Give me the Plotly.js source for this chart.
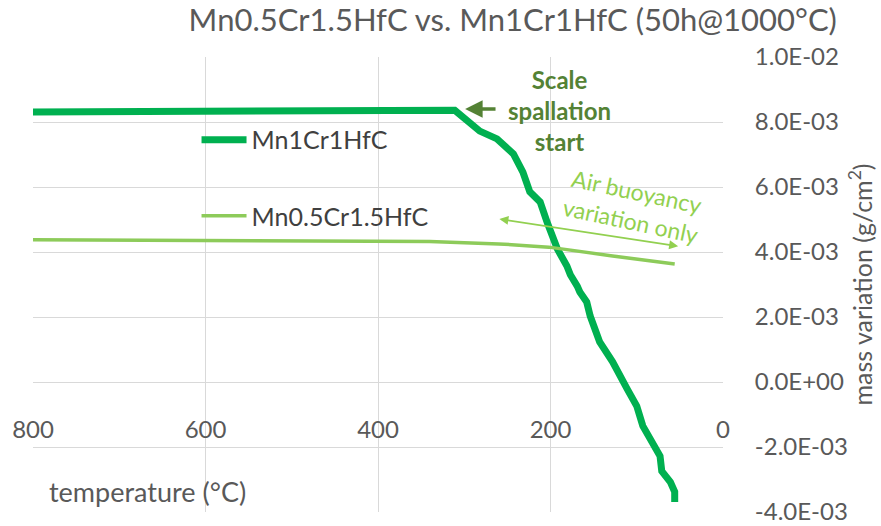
<!DOCTYPE html>
<html>
<head>
<meta charset="utf-8">
<script src="https://cdn.plot.ly/plotly-3.0.1.min.js"></script>
<style>html,body{margin:0;padding:0;background:#fff;}#chart{width:881px;height:526px;}</style>
</head>
<body>
<div id="chart"></div>
<script>
// Mn1Cr1HfC: temperature (°C) and mass variation (g/cm²)
const tempMn1 = [800, 700, 600, 500, 400, 330, 311, 282, 262, 243, 232, 224, 212, 204, 192, 181, 177, 169, 166, 158, 154, 143, 128, 111, 100, 93, 81, 73, 71, 61, 56, 56];
const massMn1 = [8.31e-3, 8.31e-3, 8.32e-3, 8.32e-3, 8.33e-3, 8.35e-3, 8.36e-3, 7.72e-3, 7.48e-3, 7.02e-3, 6.46e-3, 5.85e-3, 5.54e-3, 4.92e-3, 4.09e-3, 3.57e-3, 3.30e-3, 2.95e-3, 2.77e-3, 2.46e-3, 2.03e-3, 1.23e-3, 0.62e-3, -0.22e-3, -0.74e-3, -1.35e-3, -1.85e-3, -2.28e-3, -2.74e-3, -3.08e-3, -3.38e-3, -3.69e-3];
// Mn0.5Cr1.5HfC
const tempMn05 = [800, 700, 600, 500, 400, 340, 260, 202, 128, 56];
const massMn05 = [4.38e-3, 4.37e-3, 4.37e-3, 4.36e-3, 4.35e-3, 4.32e-3, 4.25e-3, 4.15e-3, 3.88e-3, 3.63e-3];

const xTicks = [800, 600, 400, 200, 0];
const yTickVals = [-4e-3, -2e-3, 0, 2e-3, 4e-3, 6e-3, 8e-3, 1e-2];
const yTickText = ["-4.0E-03", "-2.0E-03", "0.0E+00", "2.0E-03", "4.0E-03", "6.0E-03", "8.0E-03", "1.0E-02"];

const FONT = "Lato, 'Open Sans', sans-serif";
const GRAY = "#595959";

const traces = [
  {x: tempMn1, y: massMn1, mode: "lines", name: "Mn1Cr1HfC",
   line: {color: "#00B050", width: 7}, legend: "legend"},
  {x: tempMn05, y: massMn05, mode: "lines", name: "Mn0.5Cr1.5HfC",
   line: {color: "#8DCB5A", width: 3.5}, legend: "legend2"}
];

const layout = {
  width: 881, height: 526,
  margin: {l: 33, r: 158, t: 57, b: 14},
  paper_bgcolor: "#fff", plot_bgcolor: "#fff",
  font: {family: FONT, color: GRAY},
  title: {text: "Mn0.5Cr1.5HfC vs. Mn1Cr1HfC (50h@1000°C)", font: {size: 31, color: GRAY, family: FONT},
          x: 0.582, xref: "container", xanchor: "center", y: 0.962, yref: "container", yanchor: "middle"},
  xaxis: {range: [800, 0], tickvals: xTicks, showgrid: true, gridcolor: "#D9D9D9", gridwidth: 1,
          zeroline: false, showline: false, anchor: "free", position: (0 - (-4e-3)) / (1e-2 - (-4e-3)),
          ticks: "outside", ticklen: 26, tickcolor: "rgba(0,0,0,0)",
          tickfont: {size: 24, color: GRAY, family: FONT}},
  yaxis: {range: [-4e-3, 1e-2], side: "right", tickvals: yTickVals, ticktext: yTickText,
          showgrid: true, gridcolor: "#D9D9D9", gridwidth: 1, zeroline: false, showline: false,
          ticks: "outside", ticklen: 26, tickcolor: "rgba(0,0,0,0)",
          tickfont: {size: 24, color: GRAY, family: FONT},
          title: {text: "mass variation (g/cm<sup>2</sup>)", font: {size: 25, color: GRAY, family: FONT}, standoff: 6}},
  showlegend: true,
  legend: {x: 0.237, y: 0.8176, xanchor: "left", yanchor: "middle", bgcolor: "rgba(0,0,0,0)",
           font: {size: 25, color: "#404040", family: FONT}, itemwidth: 45},
  legend2: {x: 0.237, y: 0.6505, xanchor: "left", yanchor: "middle", bgcolor: "rgba(0,0,0,0)",
           font: {size: 25, color: "#404040", family: FONT}, itemwidth: 45},
  annotations: [
    {xref: "paper", yref: "paper", x: 0.0203, y: 0.044, xanchor: "left", yanchor: "middle",
     text: "temperature (°C)", showarrow: false, font: {size: 27, color: GRAY, family: FONT}},
    {x: 189, y: 8.34e-3, xref: "x", yref: "y", text: "<b>Scale<br>spallation<br>start</b>", showarrow: false,
     font: {size: 24, color: "#548235", family: FONT}, align: "center"},
    {x: 299, y: 8.4e-3, ax: 262, ay: 8.4e-3, axref: "x", ayref: "y", xref: "x", yref: "y", text: "",
     showarrow: true, arrowhead: 2, arrowsize: 1, arrowwidth: 3.5, arrowcolor: "#548235"},
    {x: 52, y: 4.18e-3, ax: 261, ay: 5.02e-3, axref: "x", ayref: "y", xref: "x", yref: "y", text: "",
     showarrow: true, arrowhead: 2, startarrowhead: 2, arrowside: "end+start", arrowsize: 1, startarrowsize: 1,
     arrowwidth: 1.8, arrowcolor: "#92D050"},
    {x: 104, y: 5.42e-3, xref: "x", yref: "y", text: "Air buoyancy<br>variation only", showarrow: false,
     textangle: 12, font: {size: 23, color: "#92D050", family: FONT}, align: "center"}
  ]
};

Plotly.newPlot("chart", traces, layout, {staticPlot: true, displayModeBar: false});
</script>
</body>
</html>
